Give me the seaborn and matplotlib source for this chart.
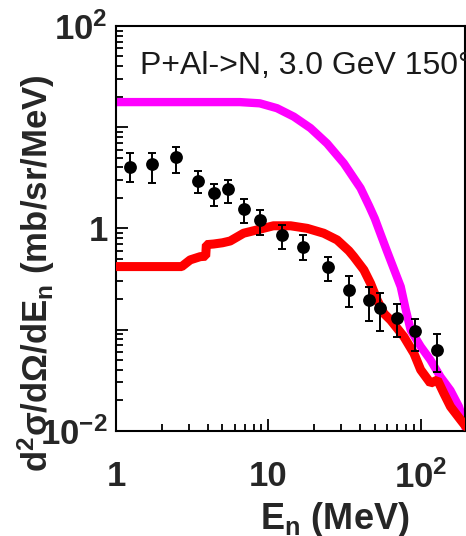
import numpy as np
import pandas as pd
import matplotlib
matplotlib.use("Agg")
import matplotlib.pyplot as plt
import matplotlib.ticker as mticker
import seaborn as sns

# Model prediction A (upper curve)
model_a_energy = [1.0, 6.5, 8.8, 11.4, 14.7, 18.9, 24.3, 31.3, 40.3, 46.0, 50.0, 55.0,
                  60.0, 67.0, 74.0, 80.0, 86.0, 100.0, 116.0, 135.0, 157.0, 178.0, 193.0, 200.0]
model_a_xsec = [17.7, 17.7, 17.2, 15.4, 12.7, 9.8, 6.9, 4.4, 2.5, 1.65, 1.25, 0.85,
                0.6, 0.39, 0.265, 0.155, 0.099, 0.068, 0.050, 0.034, 0.025, 0.0174, 0.0119, 0.010]

# Model prediction B (lower curve)
model_b_energy = [1.0, 2.7, 3.07, 3.57, 3.88, 3.92, 4.37, 5.0, 5.62, 6.88, 8.43, 10.8, 14.0, 18.0,
                  23.1, 28.3, 33.8, 36.4, 42.4, 46.9, 51.9, 57.4, 63.5, 77.6, 90.4, 100.0,
                  116.0, 129.0, 142.0, 157.0, 183.0, 198.0]
model_b_xsec = [0.419, 0.419, 0.488, 0.525, 0.53, 0.69, 0.70, 0.72, 0.75, 0.895, 0.965, 1.06, 1.06, 1.0,
                0.895, 0.768, 0.60, 0.525, 0.388, 0.286, 0.195, 0.144, 0.124, 0.085, 0.058, 0.040,
                0.0295, 0.0317, 0.0234, 0.0173, 0.0128, 0.011]

# Measured neutron spectrum with error bounds
data_energy = [1.23, 1.73, 2.47, 3.48, 4.42, 5.4, 6.95, 8.85, 12.3, 17.0, 24.5, 34.0,
               45.5, 54.5, 70.0, 92.0, 129.0]
data_xsec = [4.05, 4.31, 5.08, 2.94, 2.24, 2.47, 1.57, 1.20, 0.853, 0.653, 0.414, 0.247,
             0.194, 0.163, 0.129, 0.0977, 0.0625]
data_low = [2.88, 2.83, 3.53, 2.25, 1.65, 1.78, 1.13, 0.867, 0.631, 0.482, 0.299, 0.166,
            0.121, 0.096, 0.0845, 0.061, 0.038]
data_high = [5.50, 5.56, 6.38, 3.69, 2.77, 3.03, 1.95, 1.51, 1.07, 0.851, 0.52, 0.337,
             0.262, 0.231, 0.177, 0.128, 0.091]

x_tick_values = [1, 10, 100]
x_tick_labels = ["1", "10", r"$10^{2}$"]
y_tick_values = [1e-2, 1e-1, 1, 10, 100]
y_tick_labels = [r"$10^{-2}$", "", "1", "", r"$10^{2}$"]

title_text = "P+Al->N, 3.0 GeV 150°"

sns.set_theme(style="ticks")
plt.rcParams["font.family"] = ["Liberation Sans", "DejaVu Sans"]
plt.rcParams["mathtext.fontset"] = "custom"
plt.rcParams["mathtext.rm"] = "Liberation Sans:bold"
plt.rcParams["mathtext.it"] = "Liberation Sans:bold"
plt.rcParams["mathtext.bf"] = "Liberation Sans:bold"
plt.rcParams["mathtext.default"] = "rm"

fig = plt.figure(figsize=(4.66, 5.36), dpi=100)
ax = fig.add_axes([116 / 466, 1 - 430.7 / 536, 349 / 466, 404.7 / 536])

df_a = pd.DataFrame({"E": model_a_energy, "y": model_a_xsec})
df_b = pd.DataFrame({"E": model_b_energy, "y": model_b_xsec})
df_d = pd.DataFrame({"E": data_energy, "y": data_xsec,
                     "lo": data_low, "hi": data_high})

sns.lineplot(data=df_a, x="E", y="y", ax=ax, color="#ff00ff", lw=6,
             estimator=None, sort=False, solid_joinstyle="bevel", zorder=2)
sns.lineplot(data=df_b, x="E", y="y", ax=ax, color="#ff0000", lw=6.5,
             estimator=None, sort=False, solid_joinstyle="bevel", zorder=3)

yerr = np.vstack([df_d["y"] - df_d["lo"], df_d["hi"] - df_d["y"]])
ax.errorbar(df_d["E"], df_d["y"], yerr=yerr, fmt="none", ecolor="black",
            elinewidth=1.4, capsize=3.2, capthick=1.4, zorder=4)
sns.scatterplot(data=df_d, x="E", y="y", ax=ax, color="black", s=85,
                marker="o", edgecolor="black", linewidth=0, zorder=5)

ax.set_xscale("log")
ax.set_yscale("log")
ax.set_xlim(1, 195.5)
ax.set_ylim(0.01, 100)

ax.xaxis.set_major_locator(mticker.FixedLocator(x_tick_values))
ax.xaxis.set_major_formatter(mticker.FixedFormatter(x_tick_labels))
ax.xaxis.set_minor_locator(mticker.LogLocator(base=10, subs=np.arange(2, 10), numticks=20))
ax.xaxis.set_minor_formatter(mticker.NullFormatter())
ax.yaxis.set_major_locator(mticker.FixedLocator(y_tick_values))
ax.yaxis.set_major_formatter(mticker.FixedFormatter(y_tick_labels))
ax.yaxis.set_minor_locator(mticker.LogLocator(base=10, subs=np.arange(2, 10), numticks=20))
ax.yaxis.set_minor_formatter(mticker.NullFormatter())

ax.tick_params(which="both", direction="in", top=False, right=False, width=1.3, color="black")
ax.tick_params(which="major", length=8.6)
ax.tick_params(which="minor", length=5)
ax.tick_params(axis="x", which="major", pad=21, labelsize=25)
ax.tick_params(axis="y", which="major", pad=6, labelsize=25)
for lab in ax.get_xticklabels() + ax.get_yticklabels():
    lab.set_fontweight("bold")

for sp in ax.spines.values():
    sp.set_linewidth(1.5)
    sp.set_color("black")

ax.set_xlabel(r"E$_{n}$ (MeV)", fontsize=26, fontweight="bold")
ax.xaxis.label.set_verticalalignment("baseline")
ax.xaxis.set_label_coords(0.628, -0.243)
ax.set_ylabel(r"d$^{2}$σ/dΩ/dE$_{n}$ (mb/sr/MeV)", fontsize=25, fontweight="bold")
ax.yaxis.set_label_coords(-0.169, 0.39)

ax.text(0.069, 0.901, title_text, transform=ax.transAxes, ha="left", va="center",
        fontsize=23, color="#1a1a1a", clip_on=False)

fig.savefig("out.png", dpi=100)
